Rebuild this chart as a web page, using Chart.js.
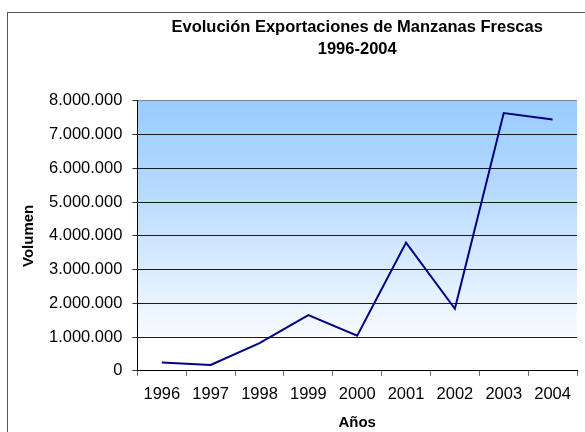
<!DOCTYPE html>
<html>
<head>
<meta charset="utf-8">
<script src="https://cdn.jsdelivr.net/npm/chart.js@4.4.0/dist/chart.umd.min.js"></script>
<style>
    html, body { margin: 0; padding: 0; background: #fff; overflow: hidden; }
    #wrap { position: relative; width: 585px; height: 432px; }
    #frame { position: absolute; left: 7px; top: 12px; width: 700px; height: 500px; border: 1px solid #555; }
    #bar-chart { position: absolute; left: 0; top: 0; }
</style>
</head>
<body>
<div id="wrap">
    <div id="frame"></div>
    <canvas id="bar-chart" width="585" height="432"></canvas>
</div>
<script>
    const years = ['1996', '1997', '1998', '1999', '2000', '2001', '2002', '2003', '2004'];
    const volumen = [250000, 175000, 820000, 1650000, 1040000, 3800000, 1840000, 7640000, 7450000];
    const titleLines = ['Evolución Exportaciones de Manzanas Frescas', '1996-2004'];

    Chart.defaults.font.family = "'Liberation Sans', Arial, sans-serif";
    Chart.defaults.color = '#000';

    // fondo degradado del area del grafico
    const plotBackground = {
        id: 'plotBackground',
        beforeDraw(chart) {
            const {ctx, chartArea} = chart;
            if (!chartArea) return;
            let g = ctx.createLinearGradient(0, chartArea.top, 0, chartArea.bottom);
            g.addColorStop(0, '#99ccff');
            g.addColorStop(0.3, '#b3d8ff');
            g.addColorStop(0.87, '#f8fbff');
            g.addColorStop(0.875, '#ffffff');
            g.addColorStop(1, '#ffffff');
            ctx.save();
            ctx.fillStyle = g;
            ctx.fillRect(chartArea.left, chartArea.top, chartArea.right - chartArea.left, chartArea.bottom - chartArea.top);
            ctx.restore();
        }
    };

    function puntos(v) {
        return String(v).replace(/\B(?=(\d{3})+(?!\d))/g, '.');
    }

    let config = {
        type: 'line',
        data: {
            labels: years,
            datasets: [
                {
                    label: 'Volumen',
                    data: volumen,
                    borderColor: '#000080',
                    borderWidth: 2,
                    pointRadius: 0,
                    tension: 0,
                    fill: false
                }
            ]
        },
        options: {
            responsive: false,
            animation: false,
            layout: {
                padding: {left: 14, right: 8, top: 0, bottom: 0}
            },
            plugins: {
                legend: {display: false},
                tooltip: {enabled: false},
                title: {
                    display: true,
                    text: titleLines,
                    fullSize: false,
                    font: {size: 16.5, weight: 'bold', lineHeight: 1.3},
                    color: '#000',
                    padding: {top: 17, bottom: 41}
                }
            },
            scales: {
                x: {
                    offset: true,
                    grid: {
                        offset: true,
                        drawOnChartArea: true,
                        color: (c) => c.index === years.length ? '#808080' : 'rgba(0,0,0,0)',
                        tickColor: '#666',
                        tickLength: 5
                    },
                    border: {color: '#000', width: 1},
                    ticks: {
                        font: {size: 16.5, lineHeight: 1.1},
                        padding: 10,
                        maxRotation: 0,
                        autoSkip: false
                    },
                    title: {
                        display: true,
                        text: 'Años',
                        font: {size: 15, weight: 'bold', lineHeight: 1.2},
                        padding: {top: 0, bottom: 0}
                    }
                },
                y: {
                    min: 0,
                    max: 8000000,
                    grid: {
                        color: (c) => c.tick && c.tick.value === 8000000 ? '#808080' : '#1a1a1a',
                        tickColor: '#333',
                        tickLength: 5
                    },
                    border: {color: '#000', width: 1},
                    ticks: {
                        stepSize: 1000000,
                        font: {size: 16.5},
                        padding: 10,
                        callback: (v) => puntos(v)
                    },
                    title: {
                        display: true,
                        text: 'Volumen',
                        font: {size: 15, weight: 'bold', lineHeight: 1.2},
                        padding: {top: 6, bottom: 1}
                    }
                }
            }
        },
        plugins: [plotBackground]
    };

    let ctx = document.getElementById('bar-chart').getContext('2d');
    window.myLine = new Chart(ctx, config);
</script>
</body>
</html>
